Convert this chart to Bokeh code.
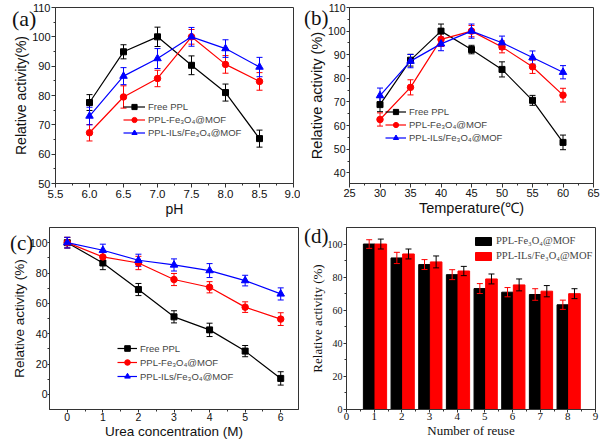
from bokeh.plotting import figure
from bokeh.models import (ColumnDataSource, Whisker, TeeHead, FixedTicker, Range1d,
                          Legend, LegendItem, Div)
from bokeh.layouts import column, row
from bokeh.transform import dodge
from bokeh.embed import file_html
from bokeh.resources import INLINE

SANS = "Liberation Sans"
SERIF = "Liberation Serif"

# ---------------- data ----------------
series_names = ["Free PPL", "PPL-Fe\u2083O\u2084@MOF", "PPL-ILs/Fe\u2083O\u2084@MOF"]
bar_names = ["PPL-Fe\u2083O\u2084@MOF", "PPL-ILs/Fe\u2083O\u2084@MOF"]
panel_tags = ["(a)", "(b)", "(c)", "(d)"]

# (a) pH
ph = [6.0, 6.5, 7.0, 7.5, 8.0, 8.5]
a_free = [77.6, 94.9, 100.0, 90.3, 81.0, 65.3]
a_free_err = [2.7, 2.4, 3.3, 3.2, 2.9, 2.9]
a_fe = [67.3, 79.5, 85.8, 100.0, 90.6, 84.8]
a_fe_err = [2.8, 3.8, 2.8, 2.5, 3.0, 3.0]
a_ils = [73.0, 86.6, 92.6, 100.0, 96.0, 89.7]
a_ils_err = [3.0, 2.9, 3.4, 3.2, 3.0, 3.3]
a_xticks = [5.5, 6.0, 6.5, 7.0, 7.5, 8.0, 8.5, 9.0]
a_xlabels = ["5.5", "6.0", "6.5", "7.0", "7.5", "8.0", "8.5", "9.0"]
a_yticks = [50, 60, 70, 80, 90, 100, 110]

# (b) temperature
temp = [30, 35, 40, 45, 50, 55, 60]
b_free = [68.9, 87.7, 100.0, 92.2, 83.8, 70.7, 52.9]
b_free_err = [3.0, 2.5, 3.0, 1.8, 3.2, 2.1, 3.1]
b_fe = [62.6, 76.2, 96.5, 100.0, 93.3, 84.9, 72.9]
b_fe_err = [2.8, 3.2, 3.0, 2.4, 2.5, 2.8, 2.9]
b_ils = [72.7, 87.3, 94.6, 100.0, 95.1, 88.8, 82.6]
b_ils_err = [3.2, 2.8, 2.9, 3.0, 2.8, 2.8, 2.8]
b_xticks = [25, 30, 35, 40, 45, 50, 55, 60, 65]
b_yticks = [40, 50, 60, 70, 80, 90, 100, 110]

# (c) urea
urea = [0, 1, 2, 3, 4, 5, 6]
c_free = [100.0, 86.6, 69.1, 51.1, 42.5, 28.5, 10.5]
c_free_err = [3.5, 4.4, 4.0, 4.0, 4.4, 3.7, 4.4]
c_fe = [100.0, 90.6, 86.6, 75.7, 70.6, 57.5, 49.6]
c_fe_err = [3.5, 3.0, 4.4, 4.0, 3.7, 3.5, 4.2]
c_ils = [100.0, 95.0, 88.4, 85.3, 81.6, 75.0, 66.2]
c_ils_err = [3.5, 4.0, 4.0, 4.0, 4.6, 3.5, 4.0]
c_xticks = [0, 1, 2, 3, 4, 5, 6]
c_yticks = [0, 20, 40, 60, 80, 100]

# (d) reuse
reuse = [1, 2, 3, 4, 5, 6, 7, 8]
d_fe = [100.0, 91.6, 87.6, 81.5, 73.1, 70.9, 69.5, 63.3]
d_fe_err = [2.6, 3.4, 3.0, 3.0, 3.0, 2.8, 3.5, 2.8]
d_ils = [100.0, 94.0, 89.2, 83.7, 78.9, 75.3, 71.5, 70.0]
d_ils_err = [3.0, 3.0, 3.6, 2.8, 3.0, 3.6, 3.4, 3.0]
d_xticks = [0, 1, 2, 3, 4, 5, 6, 7, 8, 9]
d_yticks = [0, 20, 40, 60, 80, 100]

COLORS = ["#000000", "#ff0000", "#0000ff"]
MARKERS = ["square", "circle", "triangle"]
MSIZES = [6, 6.5, 7.5]


def mids(t):
    return [(a + b) / 2 for a, b in zip(t[:-1], t[1:])]


def make_fig(w, h, xr, yr, bl, br, bt, bb):
    p = figure(width=w, height=h, x_range=Range1d(*xr), y_range=Range1d(*yr),
               output_backend="svg", toolbar_location=None, tools="",
               min_border_left=bl, min_border_right=br,
               min_border_top=bt, min_border_bottom=bb)
    p.xgrid.visible = False
    p.ygrid.visible = False
    p.outline_line_color = "#333333"
    p.outline_line_width = 1
    p.background_fill_color = "white"
    p.border_fill_color = "white"
    return p


def style_axes(p, font, xsize, ysize, lsize, xlabel, ylabel, xticks, yticks,
               xlabels=None, xtick_out=4, xstandoff=2, ytick_out=4, ystandoff=1):
    p.xaxis.ticker = FixedTicker(ticks=xticks, minor_ticks=mids(xticks))
    p.yaxis.ticker = FixedTicker(ticks=yticks, minor_ticks=mids(yticks))
    if xlabels is not None:
        p.xaxis.major_label_overrides = {t: s for t, s in zip(xticks, xlabels)}
    p.xaxis.axis_label = xlabel
    p.yaxis.axis_label = ylabel
    for ax, sz in ((p.xaxis[0], xsize), (p.yaxis[0], ysize)):
        ax.axis_line_color = "#333333"
        ax.major_tick_line_color = "#333333"
        ax.minor_tick_line_color = "#333333"
        ax.major_tick_in = 0
        ax.minor_tick_in = 0
        ax.minor_tick_out = 2
        ax.major_label_text_font = font
        ax.major_label_text_font_size = sz
        ax.major_label_text_color = "#111111"
        ax.axis_label_text_font = font
        ax.axis_label_text_font_size = lsize
        ax.axis_label_text_font_style = "normal"
        ax.axis_label_text_color = "#111111"
        ax.axis_label_standoff = 0
    p.xaxis.major_tick_out = xtick_out
    p.xaxis.major_label_standoff = xstandoff
    p.yaxis.major_tick_out = ytick_out
    p.yaxis.major_label_standoff = ystandoff


def add_series(p, x, y, err, idx):
    color = COLORS[idx]
    src = ColumnDataSource(dict(x=x, y=y,
                                lo=[v - e for v, e in zip(y, err)],
                                hi=[v + e for v, e in zip(y, err)]))
    r1 = p.line("x", "y", source=src, line_color=color, line_width=1.2)
    wk = Whisker(source=src, base="x", upper="hi", lower="lo",
                 line_color=color, line_width=1,
                 upper_head=TeeHead(size=6, line_color=color, line_width=1),
                 lower_head=TeeHead(size=6, line_color=color, line_width=1))
    p.add_layout(wk)
    r2 = p.scatter("x", "y", source=src, marker=MARKERS[idx], size=MSIZES[idx],
                   fill_color=color, line_color=color)
    return LegendItem(label=series_names[idx], renderers=[r1, r2])


def add_legend(p, items, loc, font, size, gw, gh, lh, spacing):
    lg = Legend(items=items, location=loc, label_text_font=font,
                label_text_font_size=size, glyph_width=gw, glyph_height=gh,
                label_height=lh, spacing=spacing, padding=0, margin=0,
                label_standoff=3, border_line_color=None,
                background_fill_alpha=0)
    p.add_layout(lg)


def tag(text, left, top, size="21px"):
    return Div(text=text, width=36, height=26,
               styles={"position": "absolute", "left": f"{left}px", "top": f"{top}px",
                       "font-family": SERIF, "font-size": size, "line-height": "1",
                       "color": "#111111", "z-index": "10"})


# ---------------- (a) ----------------
pa = make_fig(300, 220, (5.5, 9.0), (50, 110), 55, 7, 6, 37)
style_axes(pa, SANS, "11.5px", "11px", "14px", "pH", "Relative activity(%)",
           a_xticks, a_yticks, a_xlabels)
items = [add_series(pa, ph, a_free, a_free_err, 0),
         add_series(pa, ph, a_fe, a_fe_err, 1),
         add_series(pa, ph, a_ils, a_ils_err, 2)]
add_legend(pa, items, (68, 44), SANS, "9.5px", 22, 13, 13, 0)

# ---------------- (b) ----------------
pb = make_fig(300, 220, (25, 65), (35.5, 110), 49, 7, 7, 34)
style_axes(pb, SANS, "11px", "10.5px", "14.5px", "Temperature(\u2103)",
           "Relative activity (%)", b_xticks, b_yticks, xstandoff=1, ytick_out=3)
items = [add_series(pb, temp, b_free, b_free_err, 0),
         add_series(pb, temp, b_fe, b_fe_err, 1),
         add_series(pb, temp, b_ils, b_ils_err, 2)]
add_legend(pb, items, (36, 39), SANS, "9.5px", 21, 13, 13, 0)

# ---------------- (c) ----------------
pc = make_fig(300, 221, (-0.5, 6.5), (-10, 110), 49, 2, 7, 32)
style_axes(pc, SANS, "10.5px", "10.5px", "13.5px", "Urea concentration (M)",
           "Relative activity (%)", c_xticks, c_yticks, xtick_out=3, xstandoff=0,
           ytick_out=2, ystandoff=0)
items = [add_series(pc, urea, c_free, c_free_err, 0),
         add_series(pc, urea, c_fe, c_fe_err, 1),
         add_series(pc, urea, c_ils, c_ils_err, 2)]
add_legend(pc, items, (68, 26), SANS, "9.5px", 20, 14, 14, 0)

# ---------------- (d) ----------------
pd_ = make_fig(300, 221, (0, 9), (0, 110), 46, 5, 6, 31)
style_axes(pd_, SERIF, "11px", "10px", "13px", "Number of reuse",
           "Relative activity (%)", d_xticks, d_yticks, xtick_out=3, xstandoff=0,
           ytick_out=3, ystandoff=1)
dsrc = ColumnDataSource(dict(
    x=reuse, fe=d_fe, ils=d_ils,
    fe_lo=[v - e for v, e in zip(d_fe, d_fe_err)],
    fe_hi=[v + e for v, e in zip(d_fe, d_fe_err)],
    ils_lo=[v - e for v, e in zip(d_ils, d_ils_err)],
    ils_hi=[v + e for v, e in zip(d_ils, d_ils_err)]))
OFF_FE, OFF_ILS, BW = -0.18, 0.24, 0.42
rb1 = pd_.vbar(x=dodge("x", OFF_FE), top="fe", bottom=0, width=BW, source=dsrc,
               fill_color="#000000", line_color="#000000")
rb2 = pd_.vbar(x=dodge("x", OFF_ILS), top="ils", bottom=0, width=BW, source=dsrc,
               fill_color="#ff0000", line_color="#ff0000")
for off, lo, hi, col in ((OFF_FE, "fe_lo", "fe_hi", "#ff0000"),
                         (OFF_ILS, "ils_lo", "ils_hi", "#000000")):
    pd_.add_layout(Whisker(source=dsrc, base=dodge("x", off), upper=hi, lower=lo,
                           line_color=col, line_width=1, level="overlay",
                           upper_head=TeeHead(size=6, line_color=col, line_width=1),
                           lower_head=TeeHead(size=6, line_color=col, line_width=1)))
items = [LegendItem(label=bar_names[0], renderers=[rb1]),
         LegendItem(label=bar_names[1], renderers=[rb2])]
add_legend(pd_, items, (127, 148), SERIF, "10.5px", 20, 10, 10, 4)

layout = column(row(pa, pb), row(pc, pd_),
                tag(panel_tags[0], 7, 3, "22px"), tag(panel_tags[1], 299, 3),
                tag(panel_tags[2], 5, 228), tag(panel_tags[3], 299, 221))
open("out.html", "w").write(file_html(layout, INLINE))
